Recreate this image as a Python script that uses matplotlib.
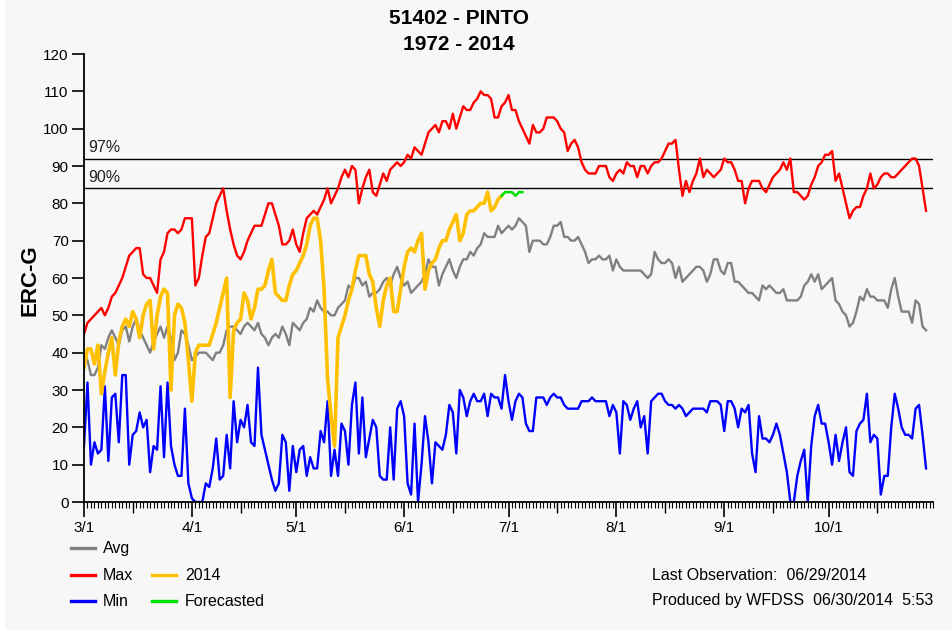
import numpy as np
import pandas as pd
import matplotlib
matplotlib.use('Agg')
import matplotlib.pyplot as plt
import matplotlib.dates as mdates
from matplotlib.lines import Line2D
from matplotlib.patches import Rectangle
from matplotlib.ticker import FuncFormatter, NullFormatter

plt.rcParams['font.family'] = ['Liberation Sans', 'DejaVu Sans']

# ---------------- data ----------------
title_line1 = '51402 - PINTO'
title_line2 = '1972 - 2014'
y_label = 'ERC-G'
start_date = '2014-03-01'
forecast_start = '2014-06-29'
pct_labels = ['97%', '90%']
pct_values = [92, 84]

max_vals = [
    45, 48, 49, 50, 51, 52, 50, 52, 55, 56,
    58, 60, 63, 66, 67, 68, 68, 61, 60, 60,
    58, 56, 65, 67, 72, 73, 73, 72, 73, 76,
    76, 76, 58, 60, 66, 71, 72, 76, 80, 82,
    84, 78, 73, 69, 66, 65, 67, 70, 72, 74,
    74, 74, 77, 80, 80, 77, 74, 69, 69, 70,
    73, 69, 67, 72, 76, 77, 78, 77, 79, 81,
    84, 80, 82, 84, 87, 89, 87, 90, 89, 80,
    84, 87, 89, 83, 82, 85, 88, 86, 89, 90,
    91, 90, 91, 93, 92, 95, 94, 93, 96, 99,
    100, 101, 99, 102, 102, 100, 104, 100, 103, 106,
    105, 105, 107, 108, 110, 109, 109, 108, 103, 103,
    106, 107, 109, 105, 105, 102, 100, 98, 96, 101,
    99, 99, 100, 103, 103, 103, 102, 100, 99, 94,
    96, 97, 95, 91, 89, 88, 88, 88, 90, 90,
    90, 87, 86, 88, 89, 88, 91, 90, 90, 87,
    90, 90, 88, 90, 91, 91, 92, 94, 96, 96,
    97, 89, 82, 86, 83, 86, 88, 92, 87, 89,
    88, 87, 88, 89, 92, 91, 91, 89, 86, 86,
    80, 84, 86, 86, 86, 84, 83, 85, 87, 88,
    89, 91, 89, 92, 83, 83, 82, 81, 82, 85,
    87, 90, 91, 93, 93, 94, 86, 88, 84, 80,
    76, 78, 79, 79, 82, 84, 88, 84, 85, 87,
    88, 88, 87, 87, 88, 89, 90, 91, 92, 92,
    90, 84, 78,
]

avg_vals = [
    39, 38, 34, 34, 36, 42, 41, 44, 46, 44,
    42, 46, 47, 43, 47, 49, 46, 44, 42, 40,
    43, 45, 47, 44, 47, 44, 38, 40, 46, 45,
    42, 38, 39, 40, 40, 40, 39, 38, 40, 40,
    42, 46, 47, 47, 46, 45, 47, 48, 47, 46,
    48, 45, 44, 42, 44, 45, 44, 47, 45, 42,
    48, 47, 46, 48, 49, 52, 51, 54, 52, 51,
    51, 50, 50, 52, 53, 54, 58, 57, 60, 60,
    58, 59, 55, 56, 56, 57, 59, 60, 58, 61,
    63, 60, 58, 59, 56, 57, 58, 59, 61, 65,
    63, 63, 58, 61, 63, 65, 62, 60, 63, 65,
    65, 67, 66, 68, 69, 72, 71, 71, 71, 74,
    72, 73, 74, 73, 74, 76, 75, 74, 67, 70,
    70, 70, 69, 69, 71, 74, 74, 75, 71, 71,
    70, 70, 71, 69, 67, 64, 65, 65, 66, 65,
    65, 66, 62, 65, 63, 62, 62, 62, 62, 62,
    62, 61, 60, 61, 67, 65, 64, 64, 65, 64,
    60, 63, 59, 60, 61, 62, 63, 63, 62, 59,
    61, 65, 65, 62, 61, 64, 64, 59, 59, 58,
    57, 56, 56, 55, 54, 58, 57, 58, 57, 56,
    56, 57, 54, 54, 54, 54, 55, 58, 59, 61,
    59, 61, 57, 58, 59, 60, 54, 53, 51, 50,
    47, 48, 51, 55, 54, 57, 55, 55, 54, 54,
    54, 52, 57, 60, 55, 51, 51, 51, 48, 54,
    53, 47, 46,
]

min_vals = [
    15, 32, 10, 16, 13, 14, 31, 11, 28, 29,
    16, 34, 34, 10, 18, 19, 24, 20, 22, 8,
    15, 14, 31, 12, 32, 15, 10, 7, 7, 25,
    5, 1, 0, 0, 0, 5, 4, 9, 17, 6,
    7, 18, 9, 27, 16, 22, 20, 26, 16, 15,
    36, 18, 14, 10, 6, 3, 5, 18, 16, 3,
    15, 8, 14, 15, 7, 12, 9, 9, 19, 16,
    27, 7, 14, 7, 21, 19, 10, 26, 32, 13,
    28, 12, 17, 22, 20, 7, 6, 6, 20, 6,
    25, 27, 23, 5, 2, 21, 0, 10, 23, 16,
    5, 16, 15, 14, 18, 26, 24, 13, 30, 28,
    23, 27, 29, 27, 27, 29, 23, 29, 28, 28,
    25, 34, 27, 22, 27, 29, 28, 21, 19, 19,
    28, 28, 28, 26, 28, 29, 28, 28, 26, 25,
    25, 25, 25, 27, 27, 27, 28, 27, 27, 27,
    27, 23, 26, 24, 13, 27, 26, 22, 25, 27,
    20, 23, 13, 27, 28, 29, 29, 27, 26, 26,
    25, 26, 25, 23, 24, 25, 25, 25, 25, 24,
    27, 27, 27, 26, 19, 27, 27, 25, 20, 25,
    24, 26, 13, 8, 23, 17, 17, 16, 18, 21,
    18, 13, 8, 0, 0, 7, 11, 14, 0, 15,
    23, 26, 21, 21, 16, 10, 18, 11, 16, 20,
    8, 7, 19, 21, 22, 29, 16, 18, 17, 2,
    7, 7, 20, 29, 25, 20, 18, 18, 17, 25,
    26, 18, 9,
]

y2014_vals = [
    36, 41, 41, 37, 42, 29, 35, 40, 44, 34,
    43, 47, 49, 47, 51, 49, 44, 50, 53, 54,
    41, 50, 55, 57, 56, 30, 50, 53, 52, 48,
    38, 27, 40, 42, 42, 42, 42, 45, 48, 52,
    56, 60, 28, 46, 48, 49, 56, 54, 49, 52,
    57, 57, 58, 62, 65, 56, 55, 54, 54, 58,
    61, 62, 64, 66, 69, 74, 76, 76, 70, 57,
    33, 23, 15, 44, 47, 50, 54, 57, 62, 66,
    66, 66, 61, 59, 52, 47, 54, 58, 60, 51,
    51, 57, 63, 67, 68, 67, 70, 72, 57, 62,
    64, 65, 68, 70, 70, 73, 75, 77, 70, 72,
    77, 78, 78, 79, 80, 80, 83, 78, 79, 81,
    82,
]

forecast_vals = [82, 83, 83, 83, 82, 83, 83]

# ---------------- figure ----------------
W, H = 953, 634
BG = '#f7f7f7'
fig = plt.figure(figsize=(W / 100, H / 100), dpi=100, facecolor='white')
fig.add_artist(Rectangle((5 / W, 4 / H), 1, 1, transform=fig.transFigure,
                         facecolor=BG, edgecolor='none', zorder=-10))

ax = fig.add_axes([84 / W, 1 - 502 / H, (933 - 84) / W, (502 - 54) / H])
ax.set_facecolor('none')

dates = pd.date_range(start_date, periods=len(avg_vals)).values
obs_dates = pd.date_range(start_date, periods=len(y2014_vals)).values
fc_dates = pd.date_range(forecast_start, periods=len(forecast_vals)).values

for v in pct_values:
    ax.axhline(v, color='black', lw=1.0, zorder=1.5)
for lab, v in zip(pct_labels, pct_values):
    ax.annotate(lab, xy=(0, v), xycoords=ax.get_yaxis_transform(),
                xytext=(3, 2.5), textcoords='offset points',
                ha='left', va='bottom', fontsize=11.5, color='#222222')

ax.plot(dates, min_vals, color='#0000ff', lw=1.7, zorder=2)
ax.plot(dates, avg_vals, color='#808080', lw=1.7, zorder=2.1)
ax.plot(dates, max_vals, color='#ff0000', lw=1.7, zorder=2.2)
ax.plot(obs_dates, y2014_vals, color='#ffc000', lw=2.6, zorder=2.3)
ax.plot(fc_dates, forecast_vals, color='#00e000', lw=1.8, zorder=2.4)

x0 = pd.Timestamp(start_date)
ax.set_xlim(x0, x0 + pd.Timedelta(days=244))
ax.set_ylim(0, 120)
ax.set_yticks(np.arange(0, 121, 10))

ax.xaxis.set_major_locator(mdates.MonthLocator(bymonthday=1))
ax.xaxis.set_minor_locator(mdates.DayLocator())


def md_fmt(v, pos):
    d = mdates.num2date(v)
    return f"{d.month}/{d.day}"


ax.xaxis.set_major_formatter(FuncFormatter(md_fmt))

for s in ['top', 'right']:
    ax.spines[s].set_visible(False)
for s in ['left', 'bottom']:
    ax.spines[s].set_linewidth(1.3)
    ax.spines[s].set_color('black')

ax.tick_params(axis='x', which='major', length=11, width=1.2, direction='out',
               labelsize=11, pad=3, color='black')
ax.tick_params(axis='x', which='minor', length=4, width=0.8, direction='out',
               color='black')
ax.tick_params(axis='y', which='major', length=9, width=1.2, direction='out',
               labelsize=11, pad=2, color='black')

sec = ax.secondary_xaxis('bottom')
sec.xaxis.set_major_locator(mdates.DayLocator(bymonthday=15))
sec.xaxis.set_major_formatter(NullFormatter())
sec.xaxis.set_minor_formatter(NullFormatter())
sec.tick_params(axis='x', which='major', length=8, width=1.0, direction='out')
sec.tick_params(axis='x', which='minor', length=0)
sec.spines['bottom'].set_visible(False)

# titles / labels
fig.text(459 / W, 1 - 18 / H, title_line1, ha='center', va='center',
         fontsize=15, fontweight='bold')
fig.text(459 / W, 1 - 45 / H, title_line2, ha='center', va='center',
         fontsize=15, fontweight='bold')
fig.text(30 / W, 1 - 280 / H, y_label, rotation=90, ha='center', va='center',
         fontsize=16, fontweight='bold')

# legend
legend_items = [
    ('Avg', '#808080', 71, 103, 548),
    ('Max', '#ff0000', 71, 103, 575),
    ('Min', '#0000ff', 71, 103, 601),
    ('2014', '#ffc000', 152, 185, 575),
    ('Forecasted', '#00e000', 152, 185, 601),
]
for text, col, lx, tx, py in legend_items:
    fig.add_artist(Line2D([lx / W, (lx + 24) / W], [1 - py / H, 1 - py / H],
                          transform=fig.transFigure, color=col, lw=2.4))
    fig.text(tx / W, 1 - py / H, text, ha='left', va='center', fontsize=11.5)

fig.text(652 / W, 1 - 575 / H, 'Last Observation:  06/29/2014',
         ha='left', va='center', fontsize=11.5)
fig.text(652 / W, 1 - 601 / H, 'Produced by WFDSS  06/30/2014  5:53',
         ha='left', va='center', fontsize=11.5)

fig.savefig('out.png', dpi=100, facecolor='white')
